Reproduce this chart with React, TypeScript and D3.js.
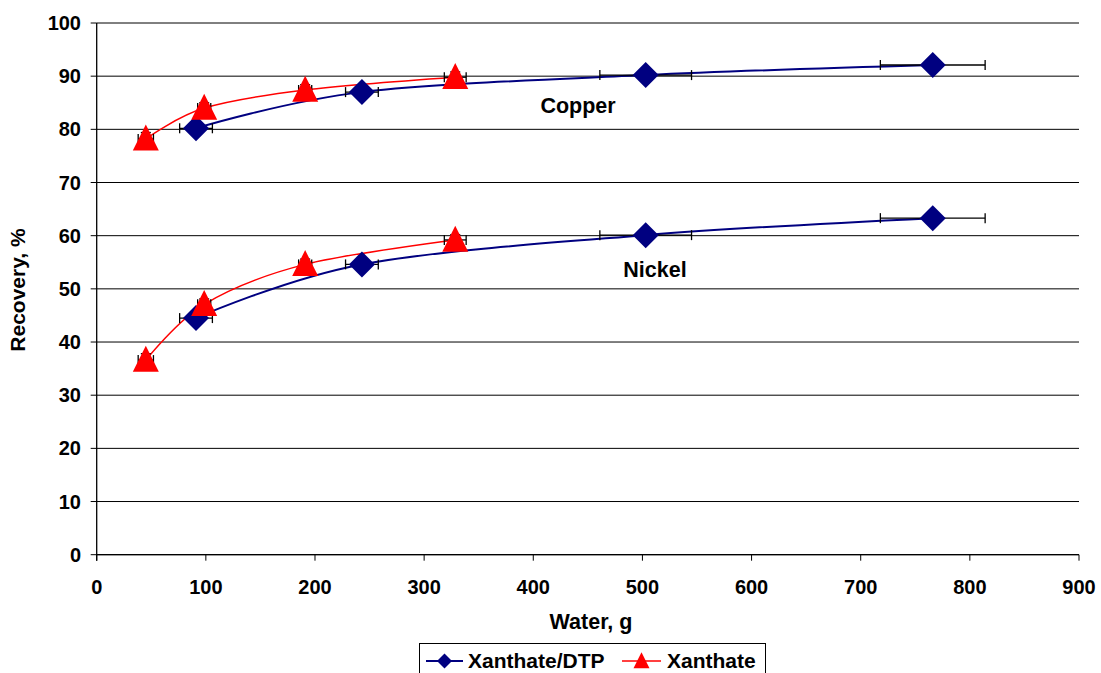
import React from "react";
import * as d3 from "d3";

const W = 1101, H = 673;
const xTicks = [0, 100, 200, 300, 400, 500, 600, 700, 800, 900];
const yTicks = [0, 10, 20, 30, 40, 50, 60, 70, 80, 90, 100];

// Xanthate/DTP
const dtpWater = [91, 243, 503, 766];
const dtpWaterErr = [15, 15, 42, 48];
const dtpCopper = [80.2, 87.0, 90.2, 92.1];
const dtpNickel = [44.5, 54.6, 60.1, 63.3];
const dtpYErr = [1, 0.8, 0.5, 0.5];

// Xanthate
const xanWater = [45, 98.5, 191, 328.5];
const xanWaterErr = [7, 6, 6, 10];
const xanCopper = [78.2, 84.0, 87.4, 89.8];
const xanNickel = [36.6, 47.1, 54.6, 59.2];
const xanYErr = [1.2, 1, 1, 1];

const FONT = "'Liberation Sans', Arial, sans-serif";

export default function App() {
  const x = d3.scaleLinear().domain([0, 900]).range([96.7, 1079]);
  const y = d3.scaleLinear().domain([0, 100]).range([554.7, 23]);
  const line = d3
    .line<[number, number]>()
    .x((d) => x(d[0]))
    .y((d) => y(d[1]))
    .curve(d3.curveCatmullRom.alpha(0));

  const zip = (a: number[], b: number[]) => a.map((v, i) => [v, b[i]] as [number, number]);

  const diamond = (cx: number, cy: number, r: number) =>
    `M${cx},${cy - r}L${cx + r},${cy}L${cx},${cy + r}L${cx - r},${cy}Z`;
  const triangle = (cx: number, cy: number, s: number) =>
    `M${cx},${cy - s * 0.55}L${cx + s / 2},${cy + s * 0.45}L${cx - s / 2},${cy + s * 0.45}Z`;

  const errBars = (xs: number[], xe: number[], ys: number[], ye: number[], key: string) =>
    xs.map((xv, i) => {
      const cy = y(ys[i]);
      const x1 = x(xv - xe[i]), x2 = x(xv + xe[i]);
      const y1 = y(ys[i] + ye[i]), y2 = y(ys[i] - ye[i]);
      const cx = x(xv);
      return (
        <g key={key + i} stroke="#000" strokeWidth={1.3}>
          <line x1={x1} x2={x2} y1={cy} y2={cy} />
          <line x1={x1} x2={x1} y1={cy - 5} y2={cy + 5} />
          <line x1={x2} x2={x2} y1={cy - 5} y2={cy + 5} />
          <line x1={cx} x2={cx} y1={y1} y2={y2} />
          <line x1={cx - 5} x2={cx + 5} y1={y1} y2={y1} />
          <line x1={cx - 5} x2={cx + 5} y1={y2} y2={y2} />
        </g>
      );
    });

  return (
    <svg width={W} height={H} style={{ position: "absolute", left: 0, top: 0, background: "#fff" }} fontFamily={FONT}>
      <rect x={0} y={0} width={W} height={H} fill="#fff" />
      {/* gridlines */}
      {yTicks.map((t) => (
        <g key={"gy" + t}>
          <line x1={x(0)} x2={x(900)} y1={y(t)} y2={y(t)} stroke="#000" strokeWidth={1} />
          <line x1={x(0) - 6} x2={x(0)} y1={y(t)} y2={y(t)} stroke="#000" strokeWidth={1} />
          <text x={81} y={y(t) + 7} textAnchor="end" fontSize={20} fontWeight="bold">
            {t}
          </text>
        </g>
      ))}
      {/* axes */}
      <line x1={x(0)} x2={x(0)} y1={y(0) + 6} y2={y(100)} stroke="#000" strokeWidth={1.3} />
      <line x1={x(0)} x2={x(900)} y1={y(0)} y2={y(0)} stroke="#000" strokeWidth={1.3} />
      {xTicks.map((t) => (
        <g key={"gx" + t}>
          <line x1={x(t)} x2={x(t)} y1={y(0)} y2={y(0) + 6} stroke="#000" strokeWidth={1} />
          <text x={x(t)} y={594} textAnchor="middle" fontSize={20} fontWeight="bold">
            {t}
          </text>
        </g>
      ))}
      <text x={591} y={629} textAnchor="middle" fontSize={21.5} fontWeight="bold">
        Water, g
      </text>
      <text
        transform={`translate(25,${290}) rotate(-90)`}
        textAnchor="middle"
        fontSize={21}
        fontWeight="bold"
      >
        Recovery, %
      </text>

      {/* lines */}
      <path d={line(zip(dtpWater, dtpCopper)) || ""} fill="none" stroke="#000080" strokeWidth={2} />
      <path d={line(zip(dtpWater, dtpNickel)) || ""} fill="none" stroke="#000080" strokeWidth={2} />
      <path d={line(zip(xanWater, xanCopper)) || ""} fill="none" stroke="#ff0000" strokeWidth={1.5} />
      <path d={line(zip(xanWater, xanNickel)) || ""} fill="none" stroke="#ff0000" strokeWidth={1.5} />

      {/* error bars */}
      {errBars(dtpWater, dtpWaterErr, dtpCopper, dtpYErr, "ec")}
      {errBars(dtpWater, dtpWaterErr, dtpNickel, dtpYErr, "en")}
      {errBars(xanWater, xanWaterErr, xanCopper, xanYErr, "xc")}
      {errBars(xanWater, xanWaterErr, xanNickel, xanYErr, "xn")}

      {/* markers */}
      {dtpWater.map((w, i) => (
        <g key={"dm" + i}>
          <path d={diamond(x(w), y(dtpCopper[i]), 13)} fill="#000080" />
          <path d={diamond(x(w), y(dtpNickel[i]), 13)} fill="#000080" />
        </g>
      ))}
      {xanWater.map((w, i) => (
        <g key={"tm" + i}>
          <path d={triangle(x(w), y(xanCopper[i]), 26)} fill="#ff0000" />
          <path d={triangle(x(w), y(xanNickel[i]), 26)} fill="#ff0000" />
        </g>
      ))}

      <text x={578} y={113} textAnchor="middle" fontSize={21.5} fontWeight="bold">
        Copper
      </text>
      <text x={655} y={277} textAnchor="middle" fontSize={21.5} fontWeight="bold">
        Nickel
      </text>

      {/* legend */}
      <rect x={419.5} y={643.5} width={346} height={40} fill="#fff" stroke="#000" strokeWidth={1} />
      <line x1={426} x2={463} y1={661} y2={661} stroke="#000080" strokeWidth={2} />
      <path d={diamond(444.5, 661, 7.5)} fill="#000080" />
      <text x={468} y={668} fontSize={21} fontWeight="bold">
        Xanthate/DTP
      </text>
      <line x1={622} x2={661} y1={661} y2={661} stroke="#ff0000" strokeWidth={1.5} />
      <path d={triangle(641.5, 661, 16)} fill="#ff0000" />
      <text x={667} y={668} fontSize={21} fontWeight="bold">
        Xanthate
      </text>
    </svg>
  );
}
